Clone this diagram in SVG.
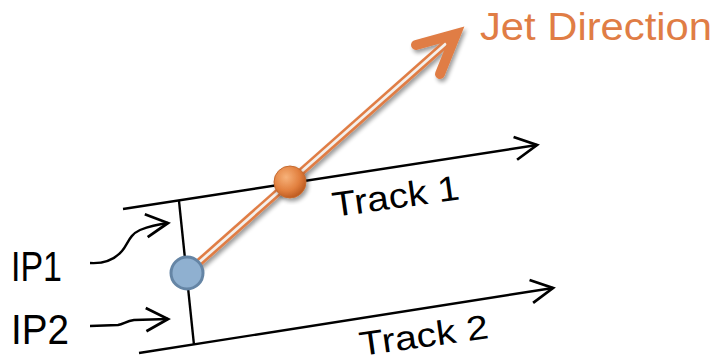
<svg xmlns="http://www.w3.org/2000/svg" width="715" height="363" viewBox="0 0 715 363">
  <style>
    .ln { fill: none; stroke: #000; stroke-width: 2.4; }
    .lbl { font-family: "Liberation Sans", Arial, sans-serif; fill: #000; }
    .jet { font-family: "Liberation Sans", Arial, sans-serif; fill: #e07d45; }
  </style>
  <defs>
    <marker id="open" markerUnits="userSpaceOnUse" markerWidth="30" markerHeight="30" viewBox="-22 -12 26 24" refX="0" refY="0" orient="auto">
      <path d="M-19,-10 L0,0 L-19,10" fill="none" stroke="#000" stroke-width="2.4"/>
    </marker>
    <radialGradient id="og" cx="0.38" cy="0.35" r="0.7">
      <stop offset="0" stop-color="#f7b27a"/>
      <stop offset="0.6" stop-color="#e2803f"/>
      <stop offset="1" stop-color="#b9561c"/>
    </radialGradient>
    <filter id="sh" x="-20%" y="-20%" width="140%" height="140%">
      <feGaussianBlur in="SourceAlpha" stdDeviation="2"/>
      <feOffset dx="2" dy="3" result="b"/>
      <feComponentTransfer><feFuncA type="linear" slope="0.4"/></feComponentTransfer>
      <feMerge><feMergeNode/><feMergeNode in="SourceGraphic"/></feMerge>
    </filter>
  </defs>

  <g id="connectors">
    <line class="ln" x1="123" y1="209" x2="537" y2="145" marker-end="url(#open)"/>
    <line class="ln" x1="139" y1="353" x2="553" y2="288" marker-end="url(#open)"/>
    <line class="ln" x1="179" y1="201" x2="194" y2="345"/>
    <path class="ln" d="M90,263 C106,264 116,258 122,251 C128,244 129,235 140,230 C150,226 160,224 168,223" marker-end="url(#open)"/>
    <path class="ln" d="M90,326 L118,325 C124,324 126,321 134,320 L168,319" marker-end="url(#open)"/>
  </g>

  <g id="jet-arrow" filter="url(#sh)">
    <line x1="187" y1="273" x2="450" y2="40" stroke="#e07d45" stroke-width="8"/>
    <line x1="187" y1="273" x2="446" y2="43.5" stroke="#f4f0ec" stroke-width="2.8"/>
    <polyline points="416,45 456,34 440,74" fill="none" stroke="#e07d45" stroke-width="10" stroke-linecap="round" stroke-linejoin="miter"/>
  </g>

  <g id="ip-vertex">
    <circle cx="187" cy="273" r="16" fill="#8fb0d0" stroke="#6585a5" stroke-width="3"/>
  </g>

  <g id="secondary-vertex" filter="url(#sh)">
    <circle cx="290" cy="182" r="16" fill="url(#og)" stroke="#c56a2f" stroke-width="1"/>
  </g>

  <g id="label-jet">
    <text class="jet" x="480" y="40" font-size="38" textLength="232" lengthAdjust="spacingAndGlyphs">Jet Direction</text>
  </g>
  <g id="label-track1">
    <text class="lbl" font-size="35" transform="translate(334,217) rotate(-8)" textLength="128" lengthAdjust="spacingAndGlyphs">Track 1</text>
  </g>
  <g id="label-track2">
    <text class="lbl" font-size="34" transform="translate(361,356) rotate(-8)" textLength="130" lengthAdjust="spacingAndGlyphs">Track 2</text>
  </g>
  <g id="label-ip1">
    <text class="lbl" x="11" y="281" font-size="42" textLength="51" lengthAdjust="spacingAndGlyphs">IP1</text>
  </g>
  <g id="label-ip2">
    <text class="lbl" x="11" y="344" font-size="42" textLength="58" lengthAdjust="spacingAndGlyphs">IP2</text>
  </g>
</svg>
